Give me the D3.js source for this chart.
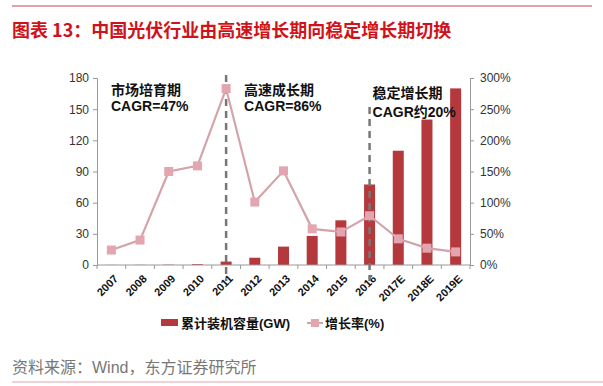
<!DOCTYPE html>
<meta charset="utf-8">
<script src="https://d3js.org/d3.v7.min.js"></script>
<style>
  body { margin: 0; background: #fff; }
  svg text { font-family: Arial, "Liberation Sans", "Noto Sans CJK SC", sans-serif; }
</style>
<div id="chart"></div>
<script>
// categories and series
var years = ["2007","2008","2009","2010","2011","2012","2013","2014","2015","2016","2017E","2018E","2019E"];
var capacity = [0.1, 0.15, 0.3, 0.8, 3.3, 7, 17.7, 28, 43, 77.5, 110, 140, 170];
var growth = [24, 40, 150, 159, 283, 101, 151, 58, 53, 79, 42, 27, 21];
var leftTicks = [0, 30, 60, 90, 120, 150, 180];
var rightTicks = [0, 50, 100, 150, 200, 250, 300];
var phases = [
  {at: "2007", name: "市场培育期", cagr: "CAGR=47%"},
  {at: "2011", name: "高速成长期", cagr: "CAGR=86%"},
  {at: "2016", name: "稳定增长期", cagr: "CAGR约20%"}
];
var dividers = ["2011", "2016"];

var W = 603, H = 386;
var margin = {top: 78, right: 133, bottom: 121, left: 97},
    width = W - margin.left - margin.right,
    height = H - margin.top - margin.bottom;

var svg = d3.select("#chart").append("svg")
  .attr("width", W).attr("height", H);

// title and rule
svg.append("line").attr("x1", 12).attr("x2", 592).attr("y1", 6).attr("y2", 6)
  .attr("stroke", "#c9444a").attr("stroke-width", 1.2);
svg.append("text").attr("x", 12).attr("y", 37)
  .attr("fill", "#d0121b").attr("font-weight", "bold").attr("font-size", 18)
  .style("font-family", "'Noto Sans CJK SC', sans-serif")
  .text("图表 13：中国光伏行业由高速增长期向稳定增长期切换");

var g = svg.append("g").attr("transform", "translate(" + margin.left + "," + margin.top + ")");

var x = d3.scaleBand().domain(years).range([0, width]);
var y = d3.scaleLinear().domain([0, 180]).range([height, 0]);
var y2 = d3.scaleLinear().domain([0, 300]).range([height, 0]);

// left axis
var ax = g.append("g").call(d3.axisLeft(y).tickValues(leftTicks).tickSize(4).tickPadding(4));
// right axis
var ax2 = g.append("g").attr("transform", "translate(" + width + ",0)")
  .call(d3.axisRight(y2).tickValues(rightTicks).tickSize(4).tickPadding(6).tickFormat(function(d) { return d + "%"; }));
[ax, ax2].forEach(function(a) {
  a.select(".domain").attr("stroke", "#999");
  a.selectAll(".tick line").attr("stroke", "#999");
  a.selectAll("text").attr("font-size", 12).attr("fill", "#333");
});

// bars
var bw = 11;
g.selectAll("rect.bar").data(years).enter().append("rect")
  .attr("class", "bar")
  .attr("x", function(d) { return x(d) + x.bandwidth() / 2 - bw / 2; })
  .attr("width", bw)
  .attr("y", function(d, i) { return y(capacity[i]); })
  .attr("height", function(d, i) { return height - y(capacity[i]); })
  .attr("fill", "#b4383c");

// x axis
var xa = g.append("g").attr("transform", "translate(0," + height + ")");
xa.append("line").attr("x1", 0).attr("x2", width).attr("stroke", "#999");
xa.selectAll("line.tk").data(d3.range(years.length + 1)).enter().append("line")
  .attr("class", "tk")
  .attr("x1", function(i) { return i * x.bandwidth(); })
  .attr("x2", function(i) { return i * x.bandwidth(); })
  .attr("y2", 4).attr("stroke", "#999");
xa.selectAll("text").data(years).enter().append("text")
  .attr("transform", function(d) {
    return "translate(" + (x(d) + x.bandwidth() / 2 + 2) + ",9) rotate(-45)";
  })
  .attr("text-anchor", "end").attr("dy", "0.7em")
  .attr("font-size", 11).attr("font-weight", "bold").attr("fill", "#111")
  .text(function(d) { return d; });

// dashed dividers
g.selectAll("line.div").data(dividers).enter().append("line")
  .attr("class", "div")
  .attr("x1", function(d) { return x(d) + x.bandwidth() / 2; })
  .attr("x2", function(d) { return x(d) + x.bandwidth() / 2; })
  .attr("y1", function(d, i) { return i === 0 ? -3 : 29; })
  .attr("y2", height + 16)
  .attr("stroke", "#777").attr("stroke-width", 2.5).attr("stroke-dasharray", "7,5");

// growth line
var line = d3.line()
  .x(function(d, i) { return x(years[i]) + x.bandwidth() / 2; })
  .y(function(d) { return y2(d); });
g.append("path").datum(growth).attr("d", line)
  .attr("fill", "none").attr("stroke", "#d4a3aa").attr("stroke-width", 2.2);
g.selectAll("rect.mk").data(growth).enter().append("rect")
  .attr("class", "mk")
  .attr("x", function(d, i) { return x(years[i]) + x.bandwidth() / 2 - 4.5; })
  .attr("y", function(d) { return y2(d) - 4.5; })
  .attr("width", 9).attr("height", 9)
  .attr("fill", "#e3a6b0");

// phase annotations
var offs = [0, 18, 3];
phases.forEach(function(p, i) {
  var px = i === 0 ? 14 : x(p.at) + x.bandwidth() / 2 + offs[i];
  var t = g.append("text").attr("x", px).attr("y", i === 2 ? 20 : 17)
    .attr("font-size", 14).attr("font-weight", "bold").attr("fill", "#111");
  t.append("tspan").attr("x", px).text(p.name);
  t.append("tspan").attr("x", px).attr("dy", i === 2 ? 19 : 16).text(p.cagr);
});

// legend
var lg = svg.append("g").attr("transform", "translate(0,323)");
lg.append("rect").attr("x", 161).attr("y", -4).attr("width", 17).attr("height", 7).attr("fill", "#b4383c");
lg.append("text").attr("x", 181).attr("y", 5).attr("font-size", 13).attr("font-weight", "bold")
  .attr("fill", "#111").text("累计装机容量(GW)");
lg.append("line").attr("x1", 307).attr("x2", 323).attr("y1", 0).attr("y2", 0)
  .attr("stroke", "#d4a3aa").attr("stroke-width", 2);
lg.append("rect").attr("x", 311).attr("y", -4).attr("width", 8).attr("height", 8).attr("fill", "#e3a6b0");
lg.append("text").attr("x", 325).attr("y", 5).attr("font-size", 13).attr("font-weight", "bold")
  .attr("fill", "#111").text("增长率(%)");

// source
svg.append("text").attr("x", 12).attr("y", 373).attr("font-size", 16).attr("fill", "#777")
  .text("资料来源：Wind，东方证券研究所");
svg.append("line").attr("x1", 12).attr("x2", 603).attr("y1", 382).attr("y2", 382)
  .attr("stroke", "#e8c4c8").attr("stroke-width", 1.5);
</script>
